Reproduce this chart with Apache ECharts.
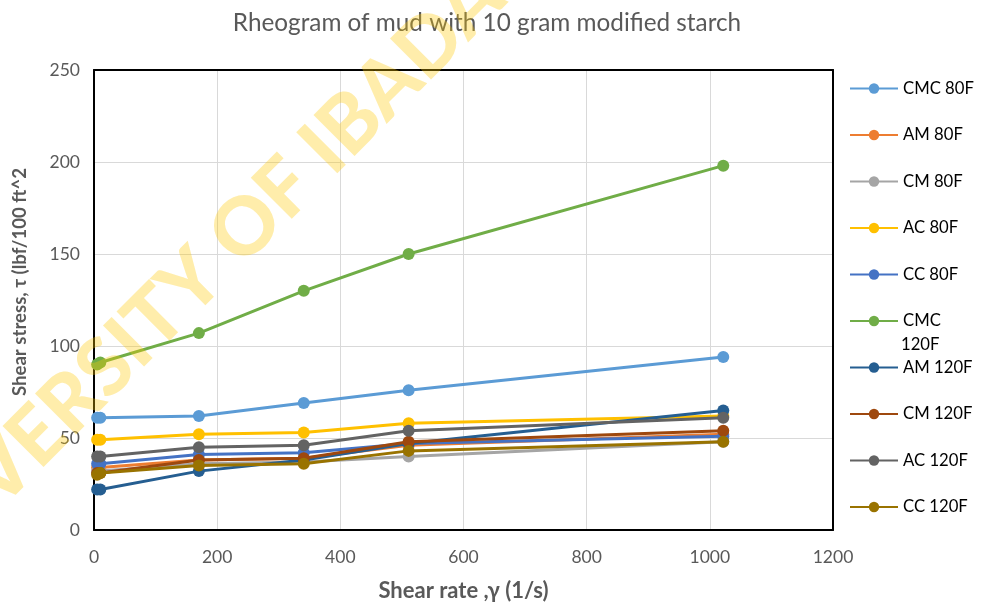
<!DOCTYPE html>
<html>
<head>
<meta charset="utf-8">
<script src="https://cdn.jsdelivr.net/npm/echarts@6/dist/echarts.min.js"></script>
<style>html,body{margin:0;padding:0;background:#fff}#c{width:984px;height:607px}</style>
</head>
<body>
<div id="c"></div>
<script>
var shearRate = [5.11, 10.22, 170.3, 340.6, 510.9, 1021.8];
var seriesNames = ['CMC 80F','AM 80F','CM 80F','AC 80F','CC 80F','CMC 120F','AM 120F','CM 120F','AC 120F','CC 120F'];
var seriesColors = ['#5B9BD5','#ED7D31','#A5A5A5','#FFC000','#4472C4','#70AD47','#255E91','#9E480E','#636363','#997300'];
var cmc80 = [61, 61, 62, 69, 76, 94];
var am80  = [34, 34, 38, 39, 46, 52];
var cm80  = [32, 32, 36, 37, 40, 48];
var ac80  = [49, 49, 52, 53, 58, 62];
var cc80  = [36, 36, 41, 42, 47, 51];
var cmc120 = [90, 91, 107, 130, 150, 198];
var am120 = [22, 22, 32, 38, 47, 65];
var cm120 = [31, 31, 38, 39, 48, 54];
var ac120 = [40, 40, 45, 46, 54, 61];
var cc120 = [30, 31, 35, 36, 43, 48];
var allValues = [cmc80, am80, cm80, ac80, cc80, cmc120, am120, cm120, ac120, cc120];
var xTicks = [0, 200, 400, 600, 800, 1000, 1200];
var yTicks = [0, 50, 100, 150, 200, 250];

var FONT = 'Lato';
var chart = echarts.init(document.getElementById('c'), null, {renderer: 'canvas'});
var series = seriesNames.map(function (n, i) {
  return {
    name: n, type: 'line',
    data: shearRate.map(function (x, j) { return [x, allValues[i][j]]; }),
    symbol: 'circle', symbolSize: 12,
    lineStyle: {width: 3, color: seriesColors[i]},
    itemStyle: {color: seriesColors[i]},
    z: 2 + i
  };
});
var borderLine = {show: true, onZero: false, lineStyle: {color: '#000', width: 2}};
chart.setOption({
  animation: false,
  color: seriesColors,
  title: {
    text: 'Rheogram of mud with 10 gram modified starch',
    left: 482, top: 6, textAlign: 'center',
    textStyle: {fontFamily: FONT, fontSize: 24.3, fontWeight: 'normal', color: '#595959'}
  },
  grid: {left: 94, right: 151, top: 70, bottom: 77},
  legend: {
    orient: 'vertical', left: 849, top: 80, padding: 0,
    itemWidth: 48, itemHeight: 13, itemGap: 29.5,
    data: seriesNames,
    formatter: function (n) { return n === 'CMC 120F' ? 'CMC' : n; },
    textStyle: {fontFamily: FONT, fontSize: 16.7, color: '#000', lineHeight: 17}
  },
  xAxis: [{
    type: 'value', min: xTicks[0], max: xTicks[xTicks.length - 1], interval: 200,
    name: 'Shear rate ,γ (1/s)', nameLocation: 'middle', nameGap: 50,
    nameTextStyle: {fontFamily: FONT, fontSize: 22, fontWeight: 'bold', color: '#595959'},
    axisLine: borderLine, axisTick: {show: false},
    axisLabel: {fontFamily: FONT, fontSize: 17.5, color: '#595959', margin: 18, formatter: function (v) { return String(v); }},
    splitLine: {show: true, lineStyle: {color: '#D9D9D9', width: 1}}
  }, {
    type: 'value', position: 'top', min: xTicks[0], max: xTicks[xTicks.length - 1], interval: 200,
    axisLine: borderLine, axisTick: {show: false}, axisLabel: {show: false}, splitLine: {show: false}
  }],
  yAxis: [{
    type: 'value', min: yTicks[0], max: yTicks[yTicks.length - 1], interval: 50,
    axisLine: borderLine, axisTick: {show: false},
    axisLabel: {fontFamily: FONT, fontSize: 17.5, color: '#595959', margin: 14},
    splitLine: {show: true, lineStyle: {color: '#D9D9D9', width: 1}}
  }, {
    type: 'value', position: 'right', min: yTicks[0], max: yTicks[yTicks.length - 1], interval: 50,
    axisLine: borderLine, axisTick: {show: false}, axisLabel: {show: false}, splitLine: {show: false}
  }],
  graphic: [
    {type: 'text', left: 901, top: 336, z: 100,
     style: {text: '120F', fontFamily: FONT, fontSize: 16.7, fill: '#000'}},
    {type: 'text', x: 20, y: 282, rotation: Math.PI / 2, z: 100,
     style: {text: 'Shear stress, τ (lbf/100 ft^2', fontFamily: FONT, fontSize: 18.6, fontWeight: 'bold', fill: '#595959', align: 'center', verticalAlign: 'middle'}},
    {type: 'text', x: 206, y: 268, rotation: 45 * Math.PI / 180, z: 200, silent: true,
     style: {text: 'UNIVERSITY OF IBADAN', fontFamily: FONT, fontSize: 80, fontWeight: 900, fill: 'rgba(255,200,0,0.33)', align: 'center', verticalAlign: 'middle'}}
  ],
  series: series
});
</script>
</body>
</html>
